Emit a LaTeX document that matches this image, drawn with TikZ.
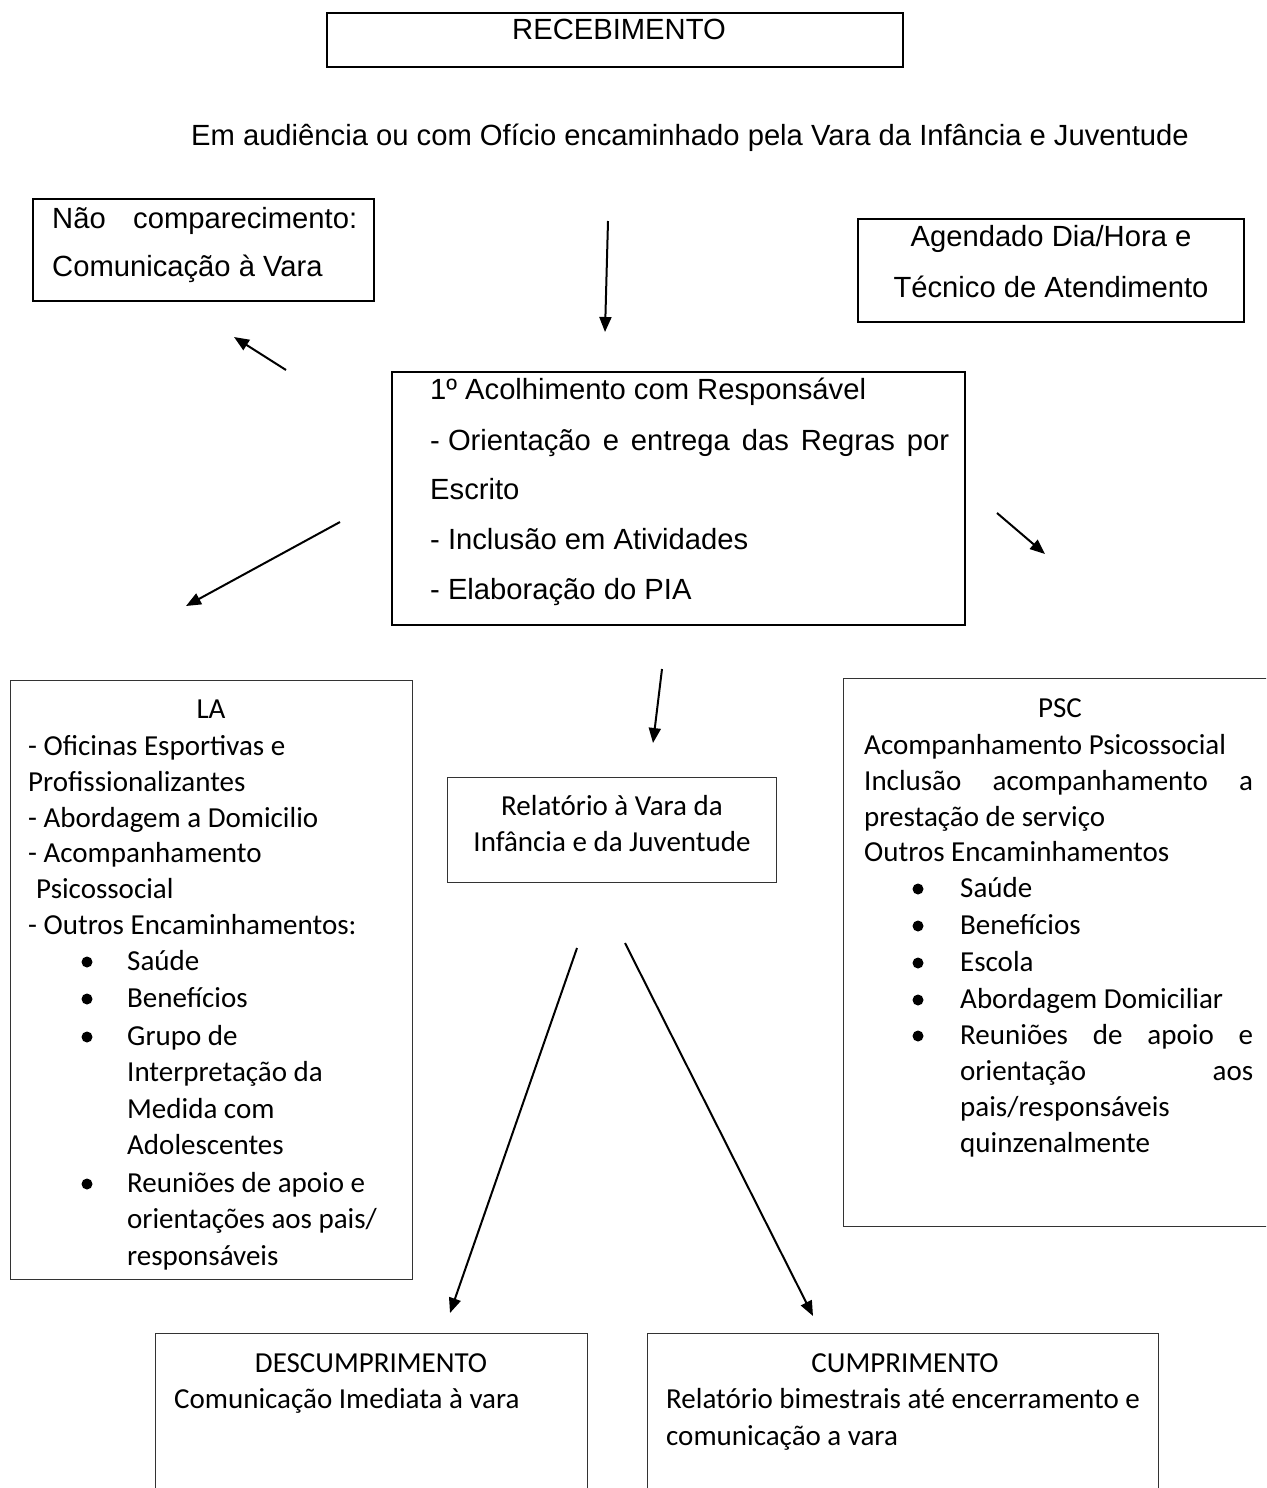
\documentclass[tikz,border=0pt]{standalone}
\usepackage{fontspec}
\setmainfont{Liberation Sans}
\newfontfamily\calfont{Carlito}
\usetikzlibrary{arrows.meta}
\begin{document}
\begin{tikzpicture}[x=1pt,y=-1pt,
  atx/.style={font=\fontsize{29.2}{34}\selectfont, inner sep=0pt},
  ctx/.style={font=\calfont\fontsize{29}{36}\selectfont, inner sep=0pt},
  lw/.style={anchor=base west}, md/.style={anchor=base},
  abox/.style={draw, line width=1.8pt, anchor=north west, inner sep=0pt},
  cbox/.style={draw=black!80, line width=1.3pt, anchor=north west, inner sep=0pt},
  arr/.style={line width=2pt, -{Triangle[length=15pt,width=12pt]}},
  bul/.style={circle, fill=black, draw=none, inner sep=0pt, minimum size=11pt}]
\fill[white] (0,0) rectangle (1266,1488);
\useasboundingbox (0,0) rectangle (1266,1488);
\clip (0,0) rectangle (1266,1488);

% boxes
\node[abox, minimum width=576pt, minimum height=54pt] (rec) at (326,12) {};
\node[abox, minimum width=341pt, minimum height=102pt] (nao) at (32,198) {};
\node[abox, minimum width=386pt, minimum height=103pt] (age) at (857,218) {};
\node[abox, minimum width=573pt, minimum height=253pt] (aco) at (391,371) {};
\node[cbox, minimum width=402pt, minimum height=599pt] (la) at (10,680) {};
\node[cbox, minimum width=432pt, minimum height=548pt] (psc) at (843,678) {};
\node[cbox, minimum width=329pt, minimum height=105pt] (rel) at (447,777) {};
\node[cbox, minimum width=432pt, minimum height=170pt] (des) at (155,1333) {};
\node[cbox, minimum width=511pt, minimum height=170pt] (cum) at (647,1333) {};

% top texts
\node[atx, md] (trec) at (619,40) {RECEBIMENTO};
\node[atx, md] (taud) at (690,145) {Em audiência ou com Ofício encaminhado pela Vara da Infância e Juventude};
\node[atx, lw] (tnao1) at (52,228) {\hbox to 305pt{Não\hfill comparecimento:}};
\node[atx, lw] (tnao2) at (52,276) {Comunicação à Vara};
\node[atx, md] (tage1) at (1051,246) {Agendado Dia/Hora e};
\node[atx, md] (tage2) at (1051,297) {Técnico de Atendimento};

\node[atx, lw] (taco1) at (430,399) {1º Acolhimento com Responsável};
\node[atx, lw] (taco2) at (430,450) {\hbox to 519pt{-\space Orientação\hfill e\hfill entrega\hfill das\hfill Regras\hfill por}};
\node[atx, lw] (taco3) at (430,499) {Escrito};
\node[atx, lw] (taco4) at (430,549) {- Inclusão em Atividades};
\node[atx, lw] (taco5) at (430,599) {- Elaboração do PIA};

% LA
\node[ctx, md] (tla0) at (211,718) {LA};
\node[ctx, lw] (tla1) at (28,755) {- Oficinas Esportivas e};
\node[ctx, lw] (tla2) at (28,791) {Profissionalizantes};
\node[ctx, lw] (tla3) at (28,827) {- Abordagem a Domicilio};
\node[ctx, lw] (tla4) at (28,862) {- Acompanhamento};
\node[ctx, lw] (tla5) at (36,898) {Psicossocial};
\node[ctx, lw] (tla6) at (28,934) {- Outros Encaminhamentos:};
\node[ctx, lw] (tla7) at (127,970) {Saúde};
\node[ctx, lw] (tla8) at (127,1007) {Benefícios};
\node[ctx, lw] (tla9) at (127,1045) {Grupo de};
\node[ctx, lw] (tla10) at (127,1081) {Interpretação da};
\node[ctx, lw] (tla11) at (127,1118) {Medida com};
\node[ctx, lw] (tla12) at (127,1154) {Adolescentes};
\node[ctx, lw] (tla13) at (127,1192) {Reuniões de apoio e};
\node[ctx, lw] (tla14) at (127,1228) {orientações aos pais/};
\node[ctx, lw] (tla15) at (127,1265) {responsáveis};
\node[bul] (bla1) at (87,962) {};
\node[bul] (bla2) at (87,999) {};
\node[bul] (bla3) at (87,1037) {};
\node[bul] (bla4) at (87,1184) {};

% Relatorio
\node[ctx, md] (trel1) at (612,815) {Relatório à Vara da};
\node[ctx, md] (trel2) at (612,851) {Infância e da Juventude};

% PSC
\node[ctx, md] (tpsc0) at (1060,717) {PSC};
\node[ctx, lw] (tpsc1) at (864,754) {Acompanhamento Psicossocial};
\node[ctx, lw] (tpsc2) at (864,790) {\hbox to 389pt{Inclusão\hfill acompanhamento\hfill a}};
\node[ctx, lw] (tpsc3) at (864,826) {prestação de serviço};
\node[ctx, lw] (tpsc4) at (864,861) {Outros Encaminhamentos};
\node[ctx, lw] (tpsc5) at (960,897) {Saúde};
\node[ctx, lw] (tpsc6) at (960,934) {Benefícios};
\node[ctx, lw] (tpsc7) at (960,971) {Escola};
\node[ctx, lw] (tpsc8) at (960,1008) {Abordagem Domiciliar};
\node[ctx, lw] (tpsc9) at (960,1044) {\hbox to 293pt{Reuniões\hfill de\hfill apoio\hfill e}};
\node[ctx, lw] (tpsc10) at (960,1080) {\hbox to 293pt{orientação\hfill aos}};
\node[ctx, lw] (tpsc11) at (960,1116) {pais/responsáveis};
\node[ctx, lw] (tpsc12) at (960,1152) {quinzenalmente};
\node[bul] (bpsc1) at (918,889) {};
\node[bul] (bpsc2) at (918,926) {};
\node[bul] (bpsc3) at (918,963) {};
\node[bul] (bpsc4) at (918,1000) {};
\node[bul] (bpsc5) at (918,1036) {};

% bottom
\node[ctx, md] (tdes1) at (371,1372) {DESCUMPRIMENTO};
\node[ctx, lw] (tdes2) at (174,1408) {Comunicação Imediata à vara};
\node[ctx, md] (tcum1) at (905,1372) {CUMPRIMENTO};
\node[ctx, lw] (tcum2) at (666,1408) {Relatório bimestrais até encerramento e};
\node[ctx, lw] (tcum3) at (666,1445) {comunicação a vara};

% arrows
\coordinate (a1s) at (608,221); \coordinate (a1e) at (605,332);
\coordinate (a2s) at (286,370); \coordinate (a2e) at (234,337);
\coordinate (a3s) at (340,522); \coordinate (a3e) at (186,606);
\coordinate (a4s) at (997,513); \coordinate (a4e) at (1045,554);
\coordinate (a5s) at (662,669); \coordinate (a5e) at (653,743);
\coordinate (a6s) at (577,948); \coordinate (a6e) at (450,1313);
\coordinate (a7s) at (625,943); \coordinate (a7e) at (813,1316);
\draw[arr] (a1s) -- (a1e);
\draw[arr] (a2s) -- (a2e);
\draw[arr] (a3s) -- (a3e);
\draw[arr] (a4s) -- (a4e);
\draw[arr] (a5s) -- (a5e);
\draw[arr] (a6s) -- (a6e);
\draw[arr] (a7s) -- (a7e);
\end{tikzpicture}
\end{document}
